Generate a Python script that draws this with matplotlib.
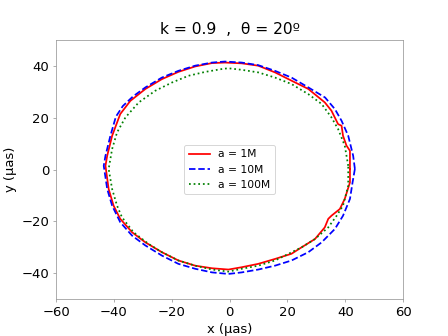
import matplotlib
matplotlib.use("Agg")
import matplotlib.pyplot as plt

# a = 1M (red)
x_1M = [41.6, 41.6, 40.4, 39.2, 38.7, 37.5, 35.2, 32.9, 27.2, 21.4, 15.7, 9.9, 4.2, -1.6, -6.1,
        -11.9, -17.7, -23.4, -29.1, -34.3, -37.8, -40.6, -42.3, -42.9, -41.8, -40.1, -37.8, -33.7,
        -29.1, -23.4, -17.7, -11.9, -6.1, -0.4, 4.2, 9.9, 15.7, 21.4, 24.9, 29.5, 32.9, 34.1, 35.2,
        38.1, 39.8, 41.6, 41.6]
y_1M = [0.3, 7.3, 9.3, 13.1, 17.0, 17.6, 22.8, 26.0, 31.2, 34.4, 37.6, 40.2, 41.1, 41.4, 41.2,
        39.9, 37.8, 35.0, 31.2, 26.6, 21.5, 13.1, 5.4, 1.5, -7.5, -13.9, -19.0, -24.2,
        -28.1, -31.9, -35.1, -37.1, -38.1, -38.6, -37.7, -36.4, -34.5, -32.5, -30.0, -26.8, -22.3, -19.0, -17.8,
        -15.2, -11.3, -4.9, 0.3]

# a = 10M (blue)
x_10M = [43.3, 42.7, 41.0, 38.7, 36.4, 33.0, 27.2, 21.4, 15.7, 9.9, 4.2, -1.6, -6.1, -11.9, -17.7,
         -23.4, -29.1, -33.4, -36.9, -39.3, -41.2, -42.9, -43.5, -42.3, -40.6, -37.8, -33.7, -29.1, -23.4,
         -17.7, -11.9, -6.1, -0.4, 4.2, 9.9, 15.7, 21.4, 27.2, 31.8, 36.4, 39.2, 41.6, 42.5, 43.3]
y_10M = [0.3, 5.4, 13.1, 18.9, 23.4, 27.9, 31.8, 35.6, 38.2, 40.4, 41.4, 41.8, 41.4, 40.2, 38.2,
         35.6, 31.8, 28.3, 24.6, 20.5, 13.1, 5.4, 1.5, -7.5, -13.9, -20.3, -25.5, -29.3, -33.2,
         -36.4, -38.3, -39.7, -40.3, -39.7, -38.6, -37.1, -35.1, -31.9, -28.1, -22.9, -17.8, -11.3, -4.9, 0.3]

# a = 100M (green)
x_100M = [41.0, 39.8, 37.5, 35.2, 31.8, 27.2, 21.4, 15.7, 9.9, 4.2, -0.5, -2.7, -8.4, -14.2, -19.9,
          -25.7, -31.4, -36.0, -38.9, -40.6, -41.8, -40.6, -38.9, -37.2, -33.2, -28.0, -23.4, -17.7,
          -11.9, -6.1, -0.4, 4.2, 9.9, 15.7, 24.9, 29.5, 34.1, 37.0, 39.2, 41.0, 41.0]
y_100M = [1.5, 9.3, 15.7, 20.2, 25.4, 29.2, 33.1, 35.6, 37.6, 38.6, 39.2, 38.9, 37.8, 36.3, 33.7,
          30.5, 26.0, 20.2, 14.4, 8.0, 0.3, -7.5, -13.9, -18.4, -24.2, -28.7, -31.9, -35.1,
          -37.1, -38.6, -39.4, -38.3, -37.1, -35.1, -30.0, -26.8, -22.3, -17.8, -13.9, -6.2, 1.5]

x_ticks = [-60, -40, -20, 0, 20, 40, 60]
y_ticks = [-40, -20, 0, 20, 40]

fig, ax = plt.subplots(figsize=(6.4, 4.8), dpi=70)
ax.plot(x_1M, y_1M, color='red', linestyle='-', linewidth=1.8, label='a = 1M')
ax.plot(x_10M, y_10M, color='blue', linestyle='--', linewidth=1.8, label='a = 10M')
ax.plot(x_100M, y_100M, color='green', linestyle=':', linewidth=1.8, label='a = 100M')

ax.set_xlim(-60, 60)
ax.set_ylim(-50, 50)
ax.set_xticks(x_ticks)
ax.set_yticks(y_ticks)
ax.set_xlabel('x (µas)', fontsize=13.5)
ax.set_ylabel('y (µas)', fontsize=13.5)
ax.set_title('k = 0.9  ,  θ = 20º', fontsize=16)
for s in ax.spines.values():
    s.set_color('#999999')
ax.tick_params(color='#999999', labelsize=13.5)
ax.legend(loc='center', fontsize=11)

fig.savefig('out.png', dpi=70)
